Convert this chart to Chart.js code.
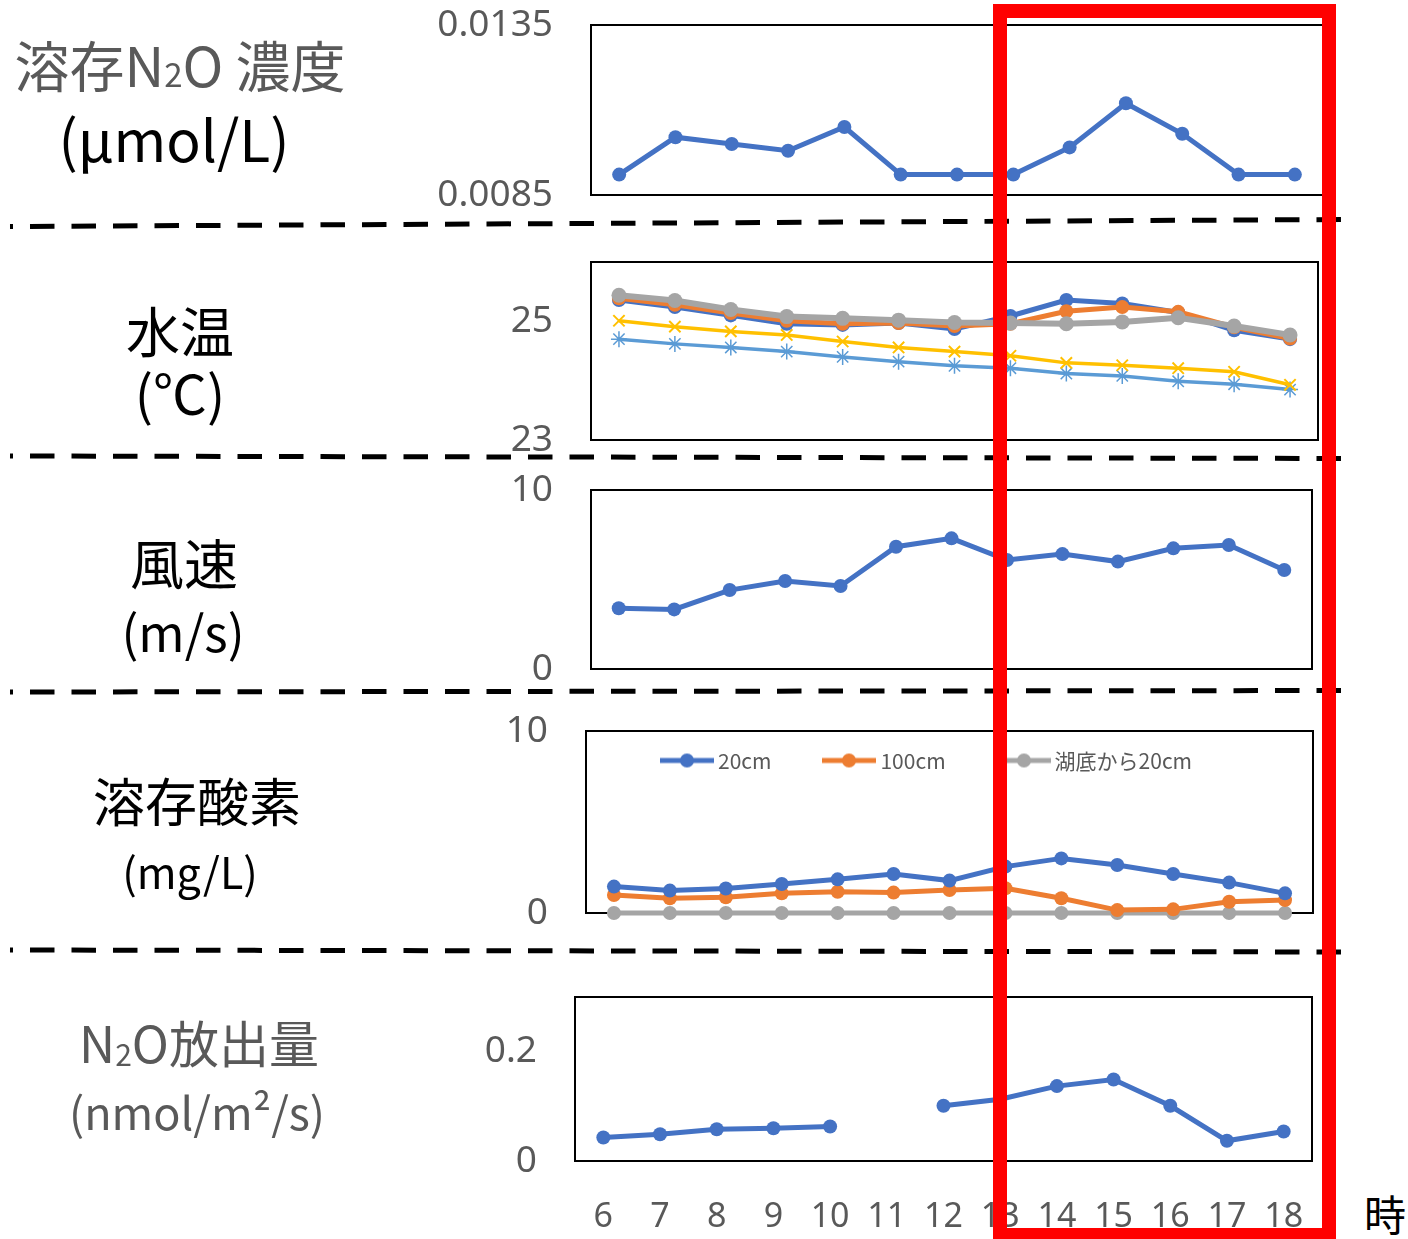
<!DOCTYPE html>
<html>
<head>
<meta charset="utf-8">
<script src="https://cdn.jsdelivr.net/npm/chart.js@4.4.1/dist/chart.umd.min.js"></script>
<style>
html, body { margin: 0; padding: 0; background: #fff; }
#page { position: relative; width: 1408px; height: 1239px; overflow: hidden; font-family: "Noto Sans CJK JP", "Noto Sans", sans-serif; }
#page > canvas { position: absolute; left: 0; }
.lbl { position: absolute; transform: translate(-50%, -50%); white-space: nowrap; line-height: 1; }
.g { color: #595959; }
.k { color: #000; }
.small { font-size: 0.6em; }
#doLegend { position: absolute; left: 660px; top: 760px; transform: translateY(-50%); display: flex; align-items: center; font-size: 21px; line-height: 1; color: #595959; white-space: nowrap; }
.leg-item { display: flex; align-items: center; margin-right: 51px; }
.leg-item canvas { margin-right: 4px; }
svg { position: absolute; left: 0; top: 0; }
</style>
</head>
<body>
<div id="page">
  <canvas id="concChart" width="1343" height="298" style="top:-39px"></canvas>
  <canvas id="tempChart" width="1338" height="306" style="top:198px"></canvas>
  <canvas id="windChart" width="1332" height="307" style="top:426px"></canvas>
  <canvas id="doChart" width="1333" height="310" style="top:667px"></canvas>
  <canvas id="fluxChart" width="1332" height="306" style="top:933px"></canvas>
  <div id="doLegend"></div>

  <div class="lbl g" style="left:180px;top:63px;font-size:55px">溶存N<span class="small">2</span>O 濃度</div>
  <div class="lbl k" style="left:174px;top:137px;font-size:57px">(μmol/L)</div>
  <div class="lbl k" style="left:180px;top:330px;font-size:54px">水温</div>
  <div class="lbl k" style="left:180px;top:392px;font-size:54px">(℃)</div>
  <div class="lbl k" style="left:184px;top:562px;font-size:54px">風速</div>
  <div class="lbl k" style="left:183px;top:630px;font-size:50px">(m/s)</div>
  <div class="lbl k" style="left:197px;top:800px;font-size:52px">溶存酸素</div>
  <div class="lbl k" style="left:190px;top:870px;font-size:43px">(mg/L)</div>
  <div class="lbl g" style="left:199px;top:1042px;font-size:50px">N<sub class="small" style="vertical-align:-0.1em">2</sub>O放出量</div>
  <div class="lbl g" style="left:197px;top:1110px;font-size:45px">(nmol/m²/s)</div>
  <div class="lbl k" style="left:1385px;top:1213px;font-size:42px">時</div>

  <svg width="1408" height="1239">
    <g stroke="#000" stroke-width="5" stroke-dasharray="24.5 17" stroke-dashoffset="21.5" fill="none">
      <line x1="10" y1="226.5" x2="1341" y2="219.5"/>
      <line x1="10" y1="456" x2="1348" y2="458.5"/>
      <line x1="10" y1="692" x2="1350" y2="690.5"/>
      <line x1="10" y1="950" x2="1342" y2="952"/>
    </g>
    <rect x="1000" y="11" width="329" height="1224" fill="none" stroke="#FF0000" stroke-width="14"/>
  </svg>
</div>

<script>
// hours of the day
var hours = ['6', '7', '8', '9', '10', '11', '12', '13', '14', '15', '16', '17', '18'];

// dissolved N2O (umol/L)
var n2oConc = [0.0091, 0.0102, 0.0100, 0.0098, 0.0105, 0.0091, 0.0091, 0.0091, 0.0099, 0.0112, 0.0103, 0.0091, 0.0091];
var concTicks = [0.0085, 0.0135];

// water temperature (C)
var temp20 = [25.36, 25.24, 25.10, 24.96, 24.94, 24.97, 24.87, 25.09, 25.36, 25.30, 25.15, 24.85, 24.70];
var temp100 = [25.39, 25.28, 25.14, 25.01, 24.96, 24.97, 24.92, 24.96, 25.17, 25.24, 25.16, 24.90, 24.71];
var tempBottom = [25.44, 25.35, 25.20, 25.08, 25.05, 25.02, 24.98, 24.97, 24.96, 24.99, 25.06, 24.92, 24.77];
var tempYellow = [25.01, 24.91, 24.83, 24.77, 24.66, 24.56, 24.49, 24.42, 24.30, 24.26, 24.21, 24.15, 23.93];
var tempStar = [24.70, 24.62, 24.56, 24.49, 24.40, 24.32, 24.25, 24.21, 24.12, 24.08, 23.99, 23.94, 23.85];
var tempTicks = [23, 25];
var tempMax = 26;

// wind speed (m/s)
var wind = [3.39, 3.33, 4.41, 4.92, 4.64, 6.83, 7.30, 6.09, 6.42, 6.00, 6.74, 6.93, 5.53];
var windTicks = [0, 10];

// dissolved oxygen (mg/L)
var depthLabels = ['20cm', '100cm', '湖底から20cm'];
var do20 = [1.45, 1.23, 1.35, 1.59, 1.85, 2.14, 1.78, 2.55, 3.00, 2.64, 2.14, 1.67, 1.08];
var do100 = [0.99, 0.81, 0.86, 1.08, 1.17, 1.12, 1.26, 1.36, 0.81, 0.16, 0.20, 0.62, 0.71];
var doBottom = [0, 0, 0, 0, 0, 0, 0, 0, 0, 0, 0, 0, 0];
var doTicks = [0, 10];

// N2O emission (nmol/m2/s), no value at 11
var n2oFlux = [0.043, 0.049, 0.058, 0.060, 0.063, null, 0.101, 0.113, 0.137, 0.149, 0.101, 0.037, 0.054];
var fluxTicks = [0, 0.2];
var fluxMax = 0.3;

var BLUE = '#4472C4', ORANGE = '#ED7D31', GRAY = '#A5A5A5', YELLOW = '#FFC000', LBLUE = '#5B9BD5';
var TICK_FONT = '"Noto Sans", "Open Sans", sans-serif';

// black box round the plot area
var plotFrame = {
  id: 'plotFrame',
  beforeDatasetsDraw: function (chart) {
    var a = chart.chartArea, ctx = chart.ctx;
    ctx.save();
    ctx.strokeStyle = '#000';
    ctx.lineWidth = 2;
    ctx.strokeRect(a.left, a.top, a.right - a.left, a.bottom - a.top);
    ctx.restore();
  }
};

// legend as html: a line with a dot, then the label
var htmlLegend = {
  id: 'htmlLegend',
  afterUpdate: function (chart, args, opts) {
    if (!opts || !opts.containerID) return;
    var box = document.getElementById(opts.containerID);
    box.innerHTML = '';
    chart.data.datasets.forEach(function (ds) {
      var item = document.createElement('span');
      item.className = 'leg-item';
      var sw = document.createElement('canvas');
      sw.width = 54; sw.height = 16;
      var g = sw.getContext('2d');
      g.strokeStyle = ds.borderColor; g.lineWidth = 5;
      g.beginPath(); g.moveTo(0, 8); g.lineTo(54, 8); g.stroke();
      g.fillStyle = ds.borderColor;
      g.beginPath(); g.arc(27, 8, 7, 0, Math.PI * 2); g.fill();
      var txt = document.createElement('span');
      txt.textContent = ds.label;
      item.appendChild(sw);
      item.appendChild(txt);
      box.appendChild(item);
    });
  }
};

function series(label, data, color, extra) {
  var ds = {
    label: label, data: data,
    borderColor: color, backgroundColor: color,
    pointBackgroundColor: color, pointBorderColor: color,
    borderWidth: 5, pointRadius: 7, pointHoverRadius: 7,
    pointBorderWidth: 0, pointStyle: 'circle',
    tension: 0, clip: false
  };
  for (var k in extra) ds[k] = extra[k];
  return ds;
}

// the y tick labels add their own padding above and below, so 64px is kept each side
function panel(id, yWidth, yMin, yMax, yTicks, datasets, more) {
  more = more || {};
  var showX = !!more.showX;
  var cfg = {
    type: 'line',
    data: { labels: hours, datasets: datasets },
    plugins: [plotFrame, htmlLegend],
    options: {
      responsive: false,
      animation: false,
      events: [],
      layout: { padding: { top: 64, bottom: showX ? 0 : 64, right: 20, left: 0 } },
      scales: {
        x: {
          display: showX,
          offset: true,
          grid: { display: false },
          border: { display: false },
          ticks: { color: '#595959', font: { size: 34, family: TICK_FONT }, padding: 28, autoSkip: false, maxRotation: 0 },
          afterFit: function (s) { if (showX) s.height = 78; }
        },
        y: {
          min: yMin, max: yMax,
          grid: { display: false },
          border: { display: false },
          ticks: {
            color: '#595959', font: { size: 37, family: TICK_FONT }, padding: 30,
            callback: function (v) { return String(v); }
          },
          afterBuildTicks: function (s) { s.ticks = yTicks.map(function (v) { return { value: v }; }); },
          afterFit: function (s) { s.width = yWidth; }
        }
      },
      plugins: {
        legend: { display: false },
        tooltip: { enabled: false },
        htmlLegend: { containerID: more.legendBox || null }
      }
    }
  };
  return new Chart(document.getElementById(id), cfg);
}

// N2O concentration
panel('concChart', 591, concTicks[0], concTicks[1], concTicks, [
  series('溶存N2O', n2oConc, BLUE)
]);

// water temperature
panel('tempChart', 591, tempTicks[0], tempMax, tempTicks, [
  series(depthLabels[2], tempBottom, GRAY, { borderWidth: 6, pointRadius: 7.5, order: 1 }),
  series(depthLabels[1], temp100, ORANGE, { order: 2 }),
  series(depthLabels[0], temp20, BLUE, { order: 3 }),
  series('', tempYellow, YELLOW, { borderWidth: 3.5, pointStyle: 'crossRot', pointRadius: 8, pointBorderWidth: 2, order: 4 }),
  series('', tempStar, LBLUE, { borderWidth: 3.5, pointStyle: 'star', pointRadius: 8, pointBorderWidth: 1.5, order: 5 })
]);

// wind speed
panel('windChart', 591, windTicks[0], windTicks[1], windTicks, [
  series('風速', wind, BLUE)
]);

// dissolved oxygen
panel('doChart', 586, doTicks[0], doTicks[1], doTicks, [
  series(depthLabels[0], do20, BLUE),
  series(depthLabels[1], do100, ORANGE),
  series(depthLabels[2], doBottom, GRAY)
], { legendBox: 'doLegend' });

// N2O emission
panel('fluxChart', 575, fluxTicks[0], fluxMax, fluxTicks, [
  series('N2O放出量', n2oFlux, BLUE)
], { showX: true });
</script>
</body>
</html>
